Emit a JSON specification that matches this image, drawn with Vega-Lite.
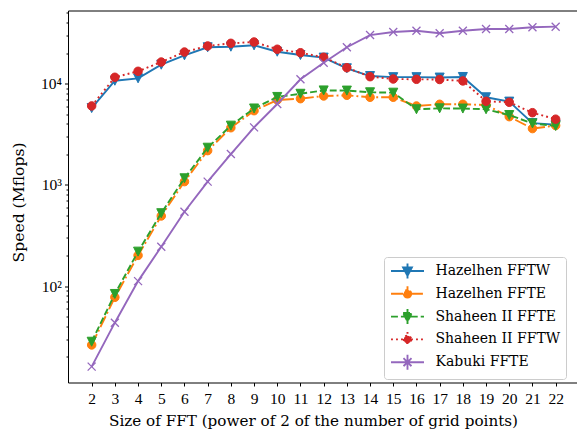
{
  "$schema": "https://vega.github.io/schema/vega-lite/v6.json",
  "width": 509,
  "height": 372,
  "autosize": "none",
  "padding": {"left": 68, "top": 10.5, "right": 0, "bottom": 46.5},
  "config": {
    "view": {"stroke": null},
    "font": "DejaVu Serif",
    "axis": {
      "labelFont": "Liberation Serif",
      "titleFont": "DejaVu Serif",
      "labelFontSize": 15.5,
      "titleFontSize": 15.2,
      "titleFontWeight": "normal",
      "labelColor": "black",
      "titleColor": "black",
      "domainColor": "black",
      "domainWidth": 1,
      "tickColor": "black",
      "tickWidth": 1,
      "labelOverlap": false,
      "labelFlush": false
    },
    "legend": {
      "labelFont": "DejaVu Serif",
      "labelFontSize": 14,
      "labelColor": "black"
    }
  },
  "data": {
    "values": [
      {"series": "Hazelhen FFTW", "k": 2, "speed": 5740},
      {"series": "Hazelhen FFTW", "k": 3, "speed": 10700},
      {"series": "Hazelhen FFTW", "k": 4, "speed": 11300},
      {"series": "Hazelhen FFTW", "k": 5, "speed": 15400},
      {"series": "Hazelhen FFTW", "k": 6, "speed": 19070},
      {"series": "Hazelhen FFTW", "k": 7, "speed": 22900},
      {"series": "Hazelhen FFTW", "k": 8, "speed": 23200},
      {"series": "Hazelhen FFTW", "k": 9, "speed": 23940},
      {"series": "Hazelhen FFTW", "k": 10, "speed": 20700},
      {"series": "Hazelhen FFTW", "k": 11, "speed": 19200},
      {"series": "Hazelhen FFTW", "k": 12, "speed": 18100},
      {"series": "Hazelhen FFTW", "k": 13, "speed": 14200},
      {"series": "Hazelhen FFTW", "k": 14, "speed": 11900},
      {"series": "Hazelhen FFTW", "k": 15, "speed": 11600},
      {"series": "Hazelhen FFTW", "k": 16, "speed": 11600},
      {"series": "Hazelhen FFTW", "k": 17, "speed": 11500},
      {"series": "Hazelhen FFTW", "k": 18, "speed": 11650},
      {"series": "Hazelhen FFTW", "k": 19, "speed": 7340},
      {"series": "Hazelhen FFTW", "k": 20, "speed": 6650},
      {"series": "Hazelhen FFTW", "k": 21, "speed": 4080},
      {"series": "Hazelhen FFTW", "k": 22, "speed": 3940},
      {"series": "Hazelhen FFTE", "k": 2, "speed": 26.2},
      {"series": "Hazelhen FFTE", "k": 3, "speed": 77.4},
      {"series": "Hazelhen FFTE", "k": 4, "speed": 201},
      {"series": "Hazelhen FFTE", "k": 5, "speed": 493},
      {"series": "Hazelhen FFTE", "k": 6, "speed": 1077},
      {"series": "Hazelhen FFTE", "k": 7, "speed": 2180},
      {"series": "Hazelhen FFTE", "k": 8, "speed": 3670},
      {"series": "Hazelhen FFTE", "k": 9, "speed": 5410},
      {"series": "Hazelhen FFTE", "k": 10, "speed": 6900},
      {"series": "Hazelhen FFTE", "k": 11, "speed": 7110},
      {"series": "Hazelhen FFTE", "k": 12, "speed": 7560},
      {"series": "Hazelhen FFTE", "k": 13, "speed": 7680},
      {"series": "Hazelhen FFTE", "k": 14, "speed": 7340},
      {"series": "Hazelhen FFTE", "k": 15, "speed": 7340},
      {"series": "Hazelhen FFTE", "k": 16, "speed": 6020},
      {"series": "Hazelhen FFTE", "k": 17, "speed": 6260},
      {"series": "Hazelhen FFTE", "k": 18, "speed": 6260},
      {"series": "Hazelhen FFTE", "k": 19, "speed": 6160},
      {"series": "Hazelhen FFTE", "k": 20, "speed": 4720},
      {"series": "Hazelhen FFTE", "k": 21, "speed": 3600},
      {"series": "Hazelhen FFTE", "k": 22, "speed": 3860},
      {"series": "Shaheen II FFTE", "k": 2, "speed": 28.2},
      {"series": "Shaheen II FFTE", "k": 3, "speed": 83.6},
      {"series": "Shaheen II FFTE", "k": 4, "speed": 219},
      {"series": "Shaheen II FFTE", "k": 5, "speed": 525},
      {"series": "Shaheen II FFTE", "k": 6, "speed": 1162},
      {"series": "Shaheen II FFTE", "k": 7, "speed": 2330},
      {"series": "Shaheen II FFTE", "k": 8, "speed": 3850},
      {"series": "Shaheen II FFTE", "k": 9, "speed": 5690},
      {"series": "Shaheen II FFTE", "k": 10, "speed": 7400},
      {"series": "Shaheen II FFTE", "k": 11, "speed": 7950},
      {"series": "Shaheen II FFTE", "k": 12, "speed": 8580},
      {"series": "Shaheen II FFTE", "k": 13, "speed": 8550},
      {"series": "Shaheen II FFTE", "k": 14, "speed": 8220},
      {"series": "Shaheen II FFTE", "k": 15, "speed": 8150},
      {"series": "Shaheen II FFTE", "k": 16, "speed": 5590},
      {"series": "Shaheen II FFTE", "k": 17, "speed": 5710},
      {"series": "Shaheen II FFTE", "k": 18, "speed": 5680},
      {"series": "Shaheen II FFTE", "k": 19, "speed": 5590},
      {"series": "Shaheen II FFTE", "k": 20, "speed": 4900},
      {"series": "Shaheen II FFTE", "k": 21, "speed": 4050},
      {"series": "Shaheen II FFTE", "k": 22, "speed": 3820},
      {"series": "Shaheen II FFTW", "k": 2, "speed": 6030},
      {"series": "Shaheen II FFTW", "k": 3, "speed": 11570},
      {"series": "Shaheen II FFTW", "k": 4, "speed": 13260},
      {"series": "Shaheen II FFTW", "k": 5, "speed": 16370},
      {"series": "Shaheen II FFTW", "k": 6, "speed": 20550},
      {"series": "Shaheen II FFTW", "k": 7, "speed": 23590},
      {"series": "Shaheen II FFTW", "k": 8, "speed": 25060},
      {"series": "Shaheen II FFTW", "k": 9, "speed": 25830},
      {"series": "Shaheen II FFTW", "k": 10, "speed": 21900},
      {"series": "Shaheen II FFTW", "k": 11, "speed": 20230},
      {"series": "Shaheen II FFTW", "k": 12, "speed": 18240},
      {"series": "Shaheen II FFTW", "k": 13, "speed": 14390},
      {"series": "Shaheen II FFTW", "k": 14, "speed": 11730},
      {"series": "Shaheen II FFTW", "k": 15, "speed": 11130},
      {"series": "Shaheen II FFTW", "k": 16, "speed": 11050},
      {"series": "Shaheen II FFTW", "k": 17, "speed": 11000},
      {"series": "Shaheen II FFTW", "k": 18, "speed": 10650},
      {"series": "Shaheen II FFTW", "k": 19, "speed": 6700},
      {"series": "Shaheen II FFTW", "k": 20, "speed": 6550},
      {"series": "Shaheen II FFTW", "k": 21, "speed": 5170},
      {"series": "Shaheen II FFTW", "k": 22, "speed": 4460},
      {"series": "Kabuki FFTE", "k": 2, "speed": 16.0},
      {"series": "Kabuki FFTE", "k": 3, "speed": 43.5},
      {"series": "Kabuki FFTE", "k": 4, "speed": 112},
      {"series": "Kabuki FFTE", "k": 5, "speed": 245},
      {"series": "Kabuki FFTE", "k": 6, "speed": 543},
      {"series": "Kabuki FFTE", "k": 7, "speed": 1077},
      {"series": "Kabuki FFTE", "k": 8, "speed": 2018},
      {"series": "Kabuki FFTE", "k": 9, "speed": 3700},
      {"series": "Kabuki FFTE", "k": 10, "speed": 6300},
      {"series": "Kabuki FFTE", "k": 11, "speed": 11050},
      {"series": "Kabuki FFTE", "k": 12, "speed": 16130},
      {"series": "Kabuki FFTE", "k": 13, "speed": 22900},
      {"series": "Kabuki FFTE", "k": 14, "speed": 30250},
      {"series": "Kabuki FFTE", "k": 15, "speed": 32420},
      {"series": "Kabuki FFTE", "k": 16, "speed": 33400},
      {"series": "Kabuki FFTE", "k": 17, "speed": 31480},
      {"series": "Kabuki FFTE", "k": 18, "speed": 33400},
      {"series": "Kabuki FFTE", "k": 19, "speed": 34700},
      {"series": "Kabuki FFTE", "k": 20, "speed": 34700},
      {"series": "Kabuki FFTE", "k": 21, "speed": 36100},
      {"series": "Kabuki FFTE", "k": 22, "speed": 36600}
    ]
  },
  "encoding": {
    "x": {
      "field": "k",
      "type": "quantitative",
      "scale": {"domain": [0.98, 22.92], "nice": false, "zero": false},
      "axis": {
        "values": [2,3,4,5,6,7,8,9,10,11,12,13,14,15,16,17,18,19,20,21,22],
        "tickSize": 3.5,
        "labelPadding": 5,
        "title": "Size of FFT (power of 2 of the number of grid points)",
        "titleX": 245,
        "titlePadding": 7,
        "grid": false
      }
    },
    "y": {
      "field": "speed",
      "type": "quantitative",
      "scale": {"type": "log", "domain": [11.15, 52880], "nice": false},
      "axis": {
        "values": [20,30,40,50,60,70,80,90,100,200,300,400,500,600,700,800,900,1000,2000,3000,4000,5000,6000,7000,8000,9000,10000,20000,30000,40000,50000,52880],
        "labelExpr": "datum.value == 100 ? '10²' : datum.value == 1000 ? '10³' : datum.value == 10000 ? '10⁴' : ''",
        "tickSize": {"condition": [{"test": "datum.value > 50001", "value": 0}, {"test": "indexof([100,1000,10000], datum.value) >= 0", "value": 3.5}], "value": 2},
        "grid": true,
        "gridColor": "black",
        "gridWidth": 1,
        "gridOpacity": {"condition": {"test": "datum.value > 50001", "value": 1}, "value": 0},
        "labelPadding": 3,
        "title": "Speed (Mflops)",
        "titleFontSize": 15.6,
        "titleY": 191.5,
        "titlePadding": 14
      }
    }
  },
  "layer": [
    {
      "transform": [{"filter": "datum.series == 'Hazelhen FFTW'"}],
      "mark": {"type": "line", "color": "#1f77b4", "strokeWidth": 1.9},
      "encoding": {}
    },
    {
      "transform": [{"filter": "datum.series == 'Hazelhen FFTW'"}],
      "mark": {"type": "point", "shape": "M-1,-1L1,-1L0,1Z", "filled": true, "fill": "#1f77b4", "stroke": "#1f77b4", "strokeWidth": 1, "size": 81, "opacity": 1},
      "encoding": {}
    },
    {
      "transform": [{"filter": "datum.series == 'Hazelhen FFTE'"}],
      "mark": {"type": "line", "color": "#ff7f0e", "strokeWidth": 1.9, "strokeDash": [12, 3, 1.9, 3]},
      "encoding": {}
    },
    {
      "transform": [{"filter": "datum.series == 'Hazelhen FFTE'"}],
      "mark": {"type": "point", "shape": "circle", "filled": true, "fill": "#ff7f0e", "stroke": "#ff7f0e", "strokeWidth": 1, "size": 72, "opacity": 1},
      "encoding": {}
    },
    {
      "transform": [{"filter": "datum.series == 'Shaheen II FFTE'"}],
      "mark": {"type": "line", "color": "#2ca02c", "strokeWidth": 1.9, "strokeDash": [6.9, 3]},
      "encoding": {}
    },
    {
      "transform": [{"filter": "datum.series == 'Shaheen II FFTE'"}],
      "mark": {"type": "point", "shape": "M-1,-1L1,-1L0,1Z", "filled": true, "fill": "#2ca02c", "stroke": "#2ca02c", "strokeWidth": 1, "size": 81, "opacity": 1},
      "encoding": {}
    },
    {
      "transform": [{"filter": "datum.series == 'Shaheen II FFTW'"}],
      "mark": {"type": "line", "color": "#d62728", "strokeWidth": 1.9, "strokeDash": [1.9, 3.1]},
      "encoding": {}
    },
    {
      "transform": [{"filter": "datum.series == 'Shaheen II FFTW'"}],
      "mark": {"type": "point", "shape": "circle", "filled": true, "fill": "#d62728", "stroke": "#d62728", "strokeWidth": 1, "size": 72, "opacity": 1},
      "encoding": {}
    },
    {
      "transform": [{"filter": "datum.series == 'Kabuki FFTE'"}],
      "mark": {"type": "line", "color": "#9467bd", "strokeWidth": 1.9},
      "encoding": {}
    },
    {
      "transform": [{"filter": "datum.series == 'Kabuki FFTE'"}],
      "mark": {"type": "point", "shape": "M-1,-1L1,1M-1,1L1,-1", "filled": false, "stroke": "#9467bd", "strokeWidth": 1.3, "size": 64, "opacity": 1},
      "encoding": {}
    },
    {
      "transform": [{"filter": "false"}],
      "mark": {"type": "point", "filled": true, "strokeWidth": 1.9, "opacity": 1},
      "encoding": {
        "color": {
          "field": "series",
          "type": "nominal",
          "scale": {
            "domain": ["Hazelhen FFTW", "Hazelhen FFTE", "Shaheen II FFTE", "Shaheen II FFTW", "Kabuki FFTE"],
            "range": ["#1f77b4", "#ff7f0e", "#2ca02c", "#d62728", "#9467bd"]
          },
          "legend": {
            "title": null,
            "orient": "none",
            "legendX": 316,
            "legendY": 246.5,
            "padding": 5,
            "symbolSize": 256,
            "symbolStrokeWidth": 1.9,
            "symbolStrokeColor": {"expr": "scale('color', datum.value)"},
            "symbolOffset": 9.5,
            "labelOffset": 19,
            "rowPadding": -1.2,
            "strokeColor": "#cccccc",
            "cornerRadius": 3,
            "fillColor": "rgba(255,255,255,0.8)"
          }
        },
        "shape": {
          "field": "series",
          "type": "nominal",
          "scale": {
            "domain": ["Hazelhen FFTW", "Hazelhen FFTE", "Shaheen II FFTE", "Shaheen II FFTW", "Kabuki FFTE"],
            "range": [
              "M-2.06,0H2.06M-0.55,-0.45L0.55,-0.45L0,0.6ZM0,-0.94V0.94",
              "M-2.06,0H2.06M0.47,0A0.47,0.47 0 1,1 -0.47,0A0.47,0.47 0 1,1 0.47,0ZM0,-0.94V0.94",
              "M-2.06,0H2.06M-0.55,-0.45L0.55,-0.45L0,0.6ZM0,-0.94V0.94",
              "M-2.06,0H2.06M0.47,0A0.47,0.47 0 1,1 -0.47,0A0.47,0.47 0 1,1 0.47,0ZM0,-0.94V0.94",
              "M-2.06,0H2.06M-0.5,-0.5L0.5,0.5M-0.5,0.5L0.5,-0.5M0,-0.94V0.94"
            ]
          }
        },
        "strokeDash": {
          "field": "series",
          "type": "nominal",
          "scale": {
            "domain": ["Hazelhen FFTW", "Hazelhen FFTE", "Shaheen II FFTE", "Shaheen II FFTW", "Kabuki FFTE"],
            "range": [[1, 0], [12, 3, 1.9, 3], [6.9, 3], [1.9, 3.1], [1, 0]]
          }
        }
      }
    }
  ]
}
